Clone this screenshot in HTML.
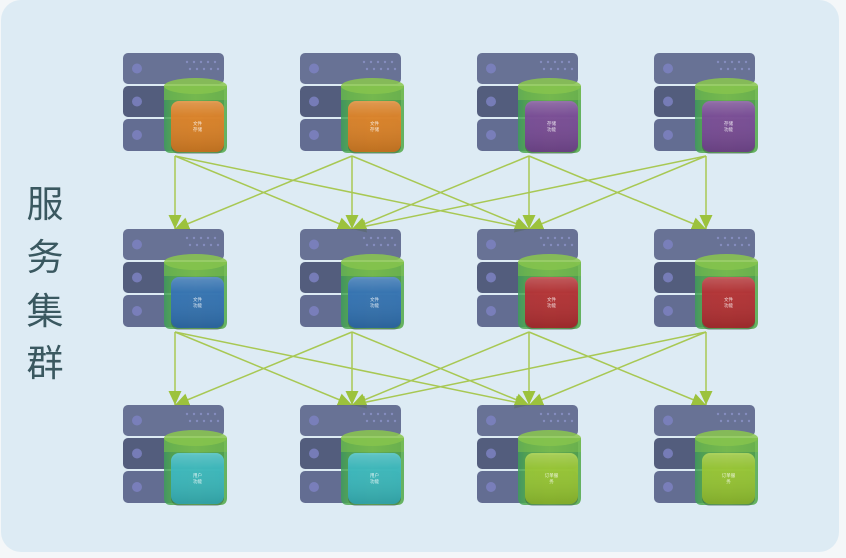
<!DOCTYPE html>
<html>
<head>
<meta charset="utf-8">
<style>
  html,body{margin:0;padding:0;background:#f4f7f9;}
  body{width:846px;height:558px;overflow:hidden;}
  svg{display:block;}
</style>
</head>
<body>
<svg width="846" height="558" viewBox="0 0 846 558" xmlns="http://www.w3.org/2000/svg">
  <defs>
    <marker id="ah" markerUnits="userSpaceOnUse" markerWidth="15" markerHeight="13" refX="14" refY="6.5" orient="auto">
      <path d="M0,0 L14,6.5 L0,13 z" fill="#9cc23d"/>
    </marker>
    <linearGradient id="cyl" x1="0" y1="0" x2="1" y2="0">
      <stop offset="0" stop-color="#3e9d5a"/>
      <stop offset="0.12" stop-color="#4fab4c"/>
      <stop offset="0.5" stop-color="#6cbb4a"/>
      <stop offset="1" stop-color="#4fa847"/>
    </linearGradient>
    <linearGradient id="shine" x1="0" y1="0" x2="0" y2="1">
      <stop offset="0" stop-color="#ffffff" stop-opacity="0.25"/>
      <stop offset="0.3" stop-color="#ffffff" stop-opacity="0.04"/>
      <stop offset="1" stop-color="#000000" stop-opacity="0.14"/>
    </linearGradient>
    <g id="srv">
      <rect x="0" y="0" width="101" height="31" rx="5" fill="#535d84"/>
      <rect x="0" y="33" width="101" height="31" rx="5" fill="#3b4467"/>
      <rect x="0" y="66" width="101" height="32" rx="5" fill="#4e5780"/>
      <circle cx="14" cy="15.5" r="5" fill="#7d81c1"/>
      <circle cx="14" cy="48.5" r="5" fill="#7d81c1"/>
      <circle cx="14" cy="82" r="5" fill="#7d81c1"/>
      <g fill="#8a90c6">
        <circle cx="64" cy="9" r="1.2"/><circle cx="71" cy="9" r="1.2"/><circle cx="78" cy="9" r="1.2"/><circle cx="85" cy="9" r="1.2"/><circle cx="92" cy="9" r="1.2"/>
        <circle cx="67" cy="16" r="1.2"/><circle cx="74" cy="16" r="1.2"/><circle cx="81" cy="16" r="1.2"/><circle cx="88" cy="16" r="1.2"/><circle cx="95" cy="16" r="1.2"/>
      </g>
      <path d="M41,33 L41,93 Q41,100 48,100 L97,100 Q104,100 104,93 L104,33 Z" fill="url(#cyl)"/>
      <ellipse cx="72.5" cy="33" rx="31.5" ry="8" fill="#8bc74e"/>
      <rect x="41" y="33" width="63" height="14" fill="#82c24c" opacity="0.6"/>
      <rect x="48" y="50" width="53" height="51" rx="8" fill="#1e3a2a" opacity="0.35"/>
    </g>
  </defs>

  <rect x="1" y="0" width="838" height="552" rx="20" fill="#ddebf4"/>

  <g font-family="'Liberation Sans','Noto Sans CJK SC',sans-serif" font-size="37" fill="#3a5860" text-anchor="middle">
    <text x="45" y="217">服</text>
    <text x="45" y="270">务</text>
    <text x="45" y="324">集</text>
    <text x="45" y="376">群</text>
  </g>

  <g stroke="#a8c853" stroke-width="1.5" fill="none" marker-end="url(#ah)">
    <line x1="175" y1="156" x2="175" y2="229"/>
    <line x1="175" y1="156" x2="352" y2="229"/>
    <line x1="175" y1="156" x2="529" y2="229"/>
    <line x1="352" y1="156" x2="175" y2="229"/>
    <line x1="352" y1="156" x2="352" y2="229"/>
    <line x1="352" y1="156" x2="529" y2="229"/>
    <line x1="529" y1="156" x2="352" y2="229"/>
    <line x1="529" y1="156" x2="529" y2="229"/>
    <line x1="529" y1="156" x2="706" y2="229"/>
    <line x1="706" y1="156" x2="352" y2="229"/>
    <line x1="706" y1="156" x2="529" y2="229"/>
    <line x1="706" y1="156" x2="706" y2="229"/>

    <line x1="175" y1="332" x2="175" y2="405"/>
    <line x1="175" y1="332" x2="352" y2="405"/>
    <line x1="175" y1="332" x2="529" y2="405"/>
    <line x1="352" y1="332" x2="175" y2="405"/>
    <line x1="352" y1="332" x2="352" y2="405"/>
    <line x1="352" y1="332" x2="529" y2="405"/>
    <line x1="529" y1="332" x2="352" y2="405"/>
    <line x1="529" y1="332" x2="529" y2="405"/>
    <line x1="529" y1="332" x2="706" y2="405"/>
    <line x1="706" y1="332" x2="352" y2="405"/>
    <line x1="706" y1="332" x2="529" y2="405"/>
    <line x1="706" y1="332" x2="706" y2="405"/>
  </g>

  <g font-family="'Liberation Sans','Noto Sans CJK SC',sans-serif" font-size="4.5" fill="#ffffff" fill-opacity="0.85" text-anchor="middle">
    <g transform="translate(123,53)">
      <use href="#srv"/>
      <rect x="48" y="48" width="53" height="51" rx="8" fill="#ee7d1f"/>
      <rect x="48" y="48" width="53" height="51" rx="8" fill="url(#shine)"/>
      <text x="74.5" y="72">文件</text><text x="74.5" y="78">存储</text>
    </g>
    <g transform="translate(300,53)">
      <use href="#srv"/>
      <rect x="48" y="48" width="53" height="51" rx="8" fill="#ee7d1f"/>
      <rect x="48" y="48" width="53" height="51" rx="8" fill="url(#shine)"/>
      <text x="74.5" y="72">文件</text><text x="74.5" y="78">存储</text>
    </g>
    <g transform="translate(477,53)">
      <use href="#srv"/>
      <rect x="48" y="48" width="53" height="51" rx="8" fill="#7c3e9f"/>
      <rect x="48" y="48" width="53" height="51" rx="8" fill="url(#shine)"/>
      <text x="74.5" y="72">存储</text><text x="74.5" y="78">功能</text>
    </g>
    <g transform="translate(654,53)">
      <use href="#srv"/>
      <rect x="48" y="48" width="53" height="51" rx="8" fill="#7c3e9f"/>
      <rect x="48" y="48" width="53" height="51" rx="8" fill="url(#shine)"/>
      <text x="74.5" y="72">存储</text><text x="74.5" y="78">功能</text>
    </g>
    <g transform="translate(123,229)">
      <use href="#srv"/>
      <rect x="48" y="48" width="53" height="51" rx="8" fill="#2d6cc1"/>
      <rect x="48" y="48" width="53" height="51" rx="8" fill="url(#shine)"/>
      <text x="74.5" y="72">文件</text><text x="74.5" y="78">功能</text>
    </g>
    <g transform="translate(300,229)">
      <use href="#srv"/>
      <rect x="48" y="48" width="53" height="51" rx="8" fill="#2d6cc1"/>
      <rect x="48" y="48" width="53" height="51" rx="8" fill="url(#shine)"/>
      <text x="74.5" y="72">文件</text><text x="74.5" y="78">功能</text>
    </g>
    <g transform="translate(477,229)">
      <use href="#srv"/>
      <rect x="48" y="48" width="53" height="51" rx="8" fill="#c1202e"/>
      <rect x="48" y="48" width="53" height="51" rx="8" fill="url(#shine)"/>
      <text x="74.5" y="72">文件</text><text x="74.5" y="78">功能</text>
    </g>
    <g transform="translate(654,229)">
      <use href="#srv"/>
      <rect x="48" y="48" width="53" height="51" rx="8" fill="#c1202e"/>
      <rect x="48" y="48" width="53" height="51" rx="8" fill="url(#shine)"/>
      <text x="74.5" y="72">文件</text><text x="74.5" y="78">功能</text>
    </g>
    <g transform="translate(123,405)">
      <use href="#srv"/>
      <rect x="48" y="48" width="53" height="51" rx="8" fill="#35bccb"/>
      <rect x="48" y="48" width="53" height="51" rx="8" fill="url(#shine)"/>
      <text x="74.5" y="72">用户</text><text x="74.5" y="78">功能</text>
    </g>
    <g transform="translate(300,405)">
      <use href="#srv"/>
      <rect x="48" y="48" width="53" height="51" rx="8" fill="#35bccb"/>
      <rect x="48" y="48" width="53" height="51" rx="8" fill="url(#shine)"/>
      <text x="74.5" y="72">用户</text><text x="74.5" y="78">功能</text>
    </g>
    <g transform="translate(477,405)">
      <use href="#srv"/>
      <rect x="48" y="48" width="53" height="51" rx="8" fill="#9fcb2d"/>
      <rect x="48" y="48" width="53" height="51" rx="8" fill="url(#shine)"/>
      <text x="74.5" y="72">订单服</text><text x="74.5" y="78">务</text>
    </g>
    <g transform="translate(654,405)">
      <use href="#srv"/>
      <rect x="48" y="48" width="53" height="51" rx="8" fill="#9fcb2d"/>
      <rect x="48" y="48" width="53" height="51" rx="8" fill="url(#shine)"/>
      <text x="74.5" y="72">订单服</text><text x="74.5" y="78">务</text>
    </g>
  </g>
</svg>
</body>
</html>
